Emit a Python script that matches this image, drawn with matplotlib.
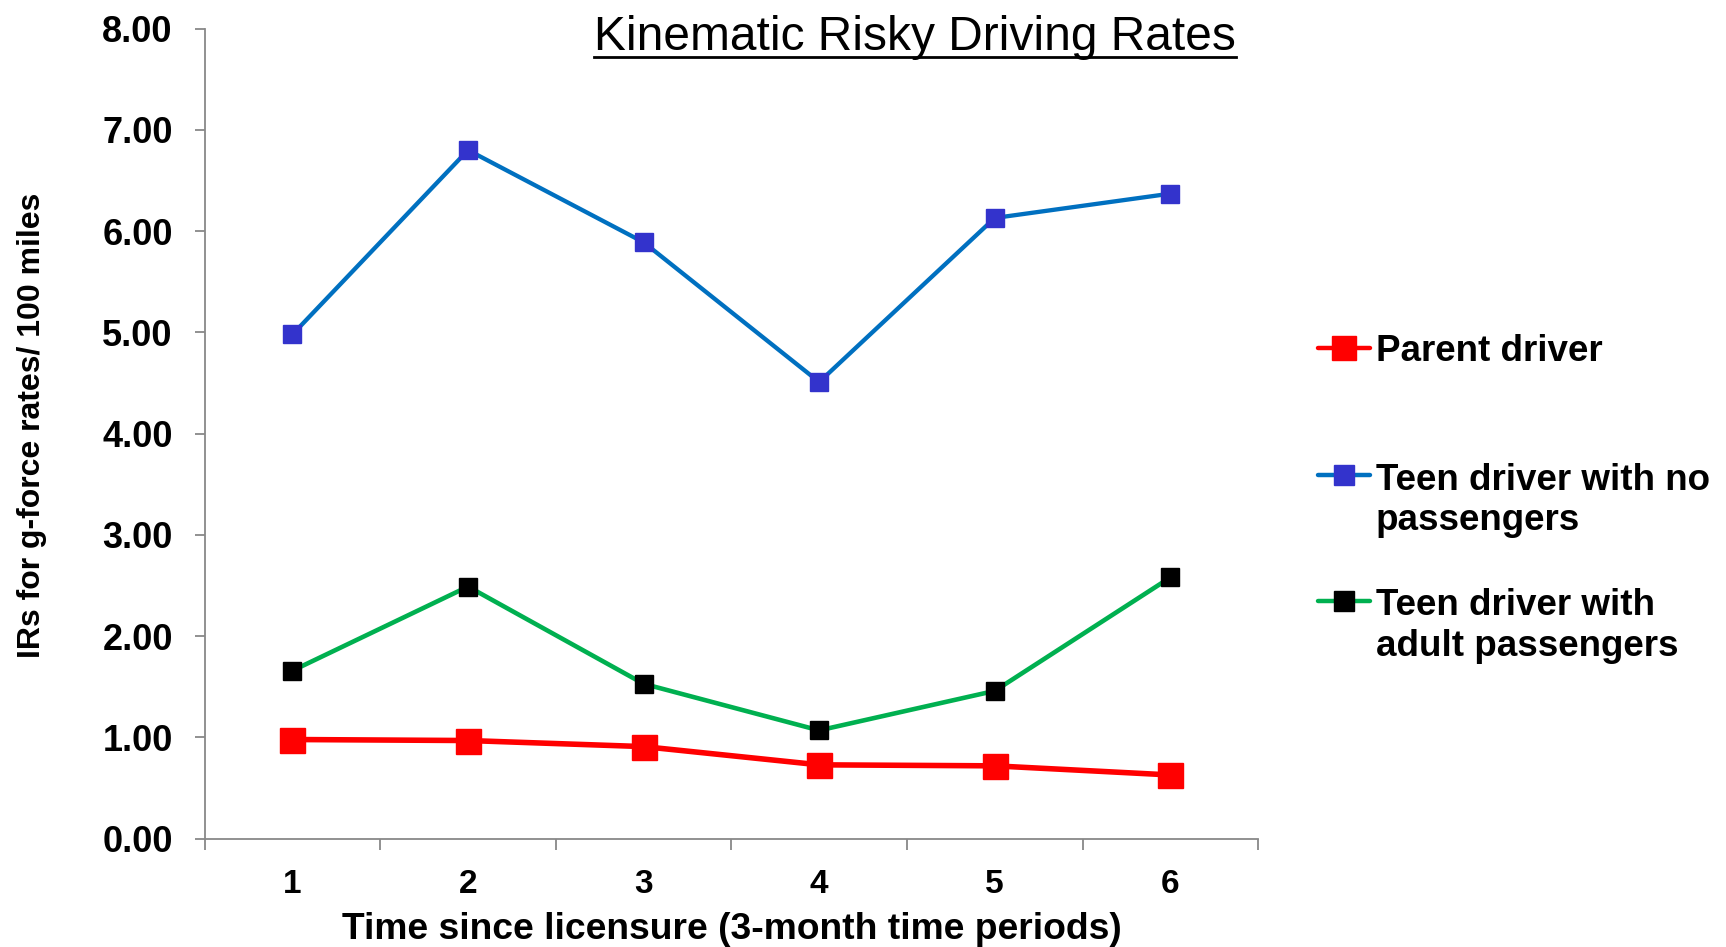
import matplotlib
matplotlib.use("Agg")
import matplotlib.pyplot as plt
from matplotlib.lines import Line2D


# ----------------------------
# Data
# ----------------------------
PERIODS = [1, 2, 3, 4, 5, 6]
PARENT = [0.98, 0.97, 0.91, 0.73, 0.72, 0.63]
TEEN_NO_PASS = [4.98, 6.80, 5.89, 4.51, 6.13, 6.37]
TEEN_ADULT_PASS = [1.66, 2.49, 1.53, 1.07, 1.46, 2.58]

SERIES_LABELS = [
    "Parent driver",
    "Teen driver with no\npassengers",
    "Teen driver with\nadult passengers",
]
Y_TICKS = [0, 1, 2, 3, 4, 5, 6, 7, 8]

TITLE = "Kinematic Risky Driving Rates"
X_LABEL = "Time since licensure (3-month time periods)"
Y_LABEL = "IRs for g-force rates/ 100 miles"


# ----------------------------
# Style
# ----------------------------
plt.rcParams["font.family"] = ["Liberation Sans", "DejaVu Sans"]

styles = [
    dict(color="#FF0000", mfc="#FF0000", mec="#FF0000", lw=4.0, ms=18),
    dict(color="#0070C0", mfc="#3333CC", mec="#3333CC", lw=3.1, ms=13),
    dict(color="#00B050", mfc="#000000", mec="#000000", lw=3.3, ms=13),
]
series = [PARENT, TEEN_NO_PASS, TEEN_ADULT_PASS]

fig = plt.figure(figsize=(17.26, 9.47), dpi=100)
ax = fig.add_axes([0.1186, 0.1143, 0.6103, 0.8555])

for vals, st in zip(series, styles):
    ax.plot(PERIODS, vals, marker="s", color=st["color"], lw=st["lw"],
            markersize=st["ms"], markerfacecolor=st["mfc"],
            markeredgecolor=st["mec"], solid_joinstyle="round")

ax.set_xlim(0.5, 6.5)
ax.set_ylim(0, 8)

ax.set_yticks(Y_TICKS)
ax.set_yticklabels([f"{v:.2f}" for v in Y_TICKS], fontsize=26, fontweight="bold")
ax.set_xticks(PERIODS)
ax.set_xticklabels([str(p) for p in PERIODS], fontsize=24, fontweight="bold")
ax.set_xticks([p - 0.5 for p in PERIODS] + [6.5], minor=True)

ax.tick_params(axis="y", direction="out", length=7, width=1.3, color="#888888", pad=16)
ax.tick_params(axis="x", which="major", length=0, pad=22)
ax.tick_params(axis="x", which="minor", direction="out", length=8, width=1.3, color="#888888")

for side in ["top", "right"]:
    ax.spines[side].set_visible(False)
for side in ["left", "bottom"]:
    ax.spines[side].set_color("#888888")
    ax.spines[side].set_linewidth(1.3)

ax.set_xlabel(X_LABEL, fontsize=26.8, fontweight="bold", va="top")
ax.xaxis.set_label_coords(0.5, -0.090)
ax.set_ylabel(Y_LABEL, fontsize=23, fontweight="bold")
ax.yaxis.set_label_coords(-0.150, 0.51)


# ----------------------------
# Title (underlined)
# ----------------------------
title = fig.text(0.530, 0.9477, TITLE, fontsize=34.5, ha="center", va="baseline")
fig.canvas.draw()
bb = title.get_window_extent(fig.canvas.get_renderer())
W = fig.bbox.width
y_ul = 1 - 57 / 947
fig.add_artist(Line2D([bb.x0 / W, bb.x1 / W], [y_ul, y_ul], transform=fig.transFigure,
                      color="black", lw=2))


# ----------------------------
# Legend (drawn by hand, handle aligned with first line)
# ----------------------------
leg_y = [0.6325, 0.4979, 0.3654]
leg_ms = [17, 15, 15]
line_step = 42 / 947
for lab, st, y, ms in zip(SERIES_LABELS, styles, leg_y, leg_ms):
    fig.add_artist(Line2D([0.7636, 0.7937], [y, y], transform=fig.transFigure,
                          color=st["color"], lw=3.2, solid_capstyle="round"))
    fig.add_artist(Line2D([0.7787], [y], transform=fig.transFigure, marker="s",
                          markersize=ms, markerfacecolor=st["mfc"],
                          markeredgecolor=st["mec"], linestyle="none"))
    n_extra = lab.count("\n")
    # va="baseline" anchors the last line, so shift down for wrapped labels
    fig.text(0.7972, y - 13 / 947 - n_extra * line_step, lab, fontsize=26.5,
             fontweight="bold", ha="left", va="baseline", linespacing=1.21)

fig.savefig("out.png", dpi=100)
